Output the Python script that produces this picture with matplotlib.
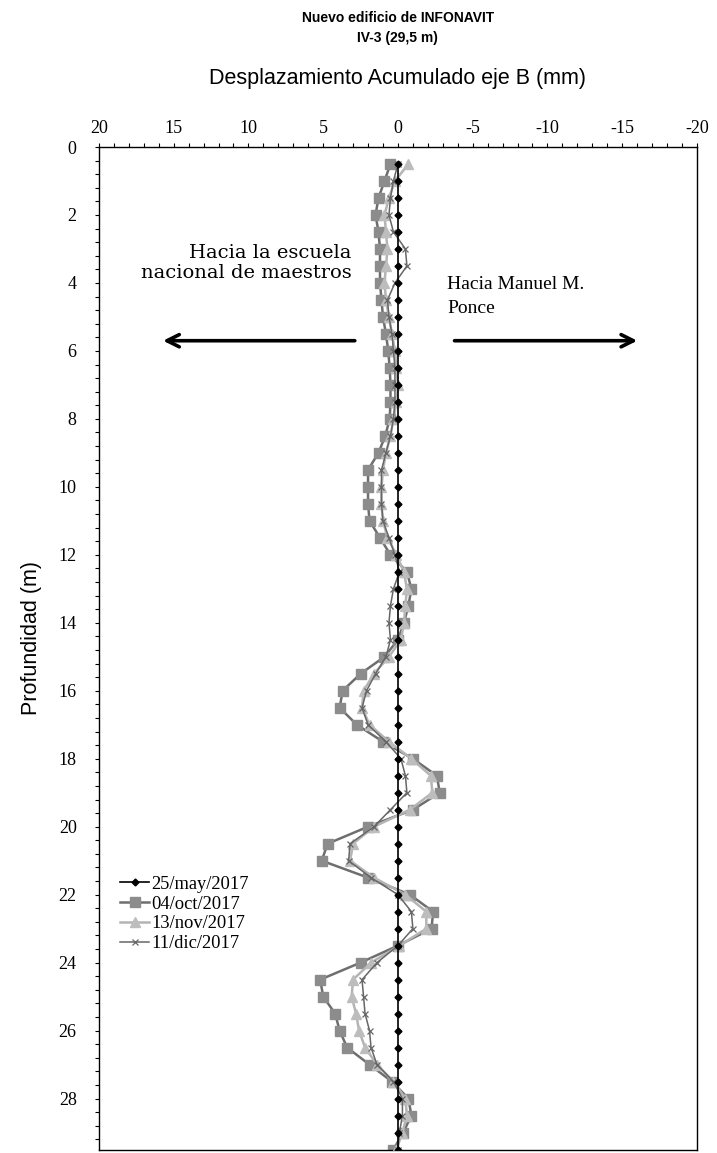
import numpy as np
import matplotlib
matplotlib.use("Agg")
from matplotlib import pyplot as plt
from matplotlib.ticker import MultipleLocator

plt.rcParams["axes.unicode_minus"] = False

depth = np.arange(0.5, 29.51, 0.5)

may_2017 = [0.0] * 59

oct_2017 = [0.5, 0.9, 1.3, 1.5, 1.3, 1.2, 1.2, 1.2, 1.1, 1.0,
            0.8, 0.65, 0.55, 0.5, 0.5, 0.55, 0.85, 1.3, 2.0, 2.0,
            2.0, 1.9, 1.2, 0.5, -0.6, -0.9, -0.7, -0.4, 0.0, 0.9,
            2.5, 3.7, 3.9, 2.75, 1.0, -1.0, -2.6, -2.8, -1.0, 2.0,
            4.7, 5.1, 2.0, -0.8, -2.35, -2.25, 0.0, 2.5, 5.2, 5.0,
            4.2, 3.9, 3.4, 1.9, 0.4, -0.7, -0.9, -0.35, 0.3]

nov_2017 = [-0.7, 0.2, 0.6, 0.9, 0.8, 0.7, 0.8, 0.9, 0.8, 0.6,
            0.4, 0.2, 0.1, 0.0, 0.1, 0.3, 0.5, 0.8, 1.0, 1.1,
            1.1, 1.0, 0.7, 0.1, -0.4, -0.6, -0.5, -0.4, -0.2, 0.6,
            1.6, 2.3, 2.4, 1.9, 0.6, -0.9, -2.2, -2.3, -0.8, 1.6,
            3.0, 3.2, 1.6, -0.5, -1.9, -1.9, -0.1, 1.8, 3.0, 3.1,
            2.8, 2.6, 2.2, 1.4, 0.3, -0.5, -0.6, -0.3, 0.1]

dic_2017 = [0.0, 0.3, 0.5, 0.6, 0.3, -0.5, -0.6, 0.2, 0.7, 0.6,
            0.4, 0.3, 0.2, 0.2, 0.2, 0.3, 0.5, 0.8, 1.1, 1.1,
            1.1, 1.0, 0.6, 0.2, -0.1, 0.3, 0.5, 0.6, 0.5, 0.8,
            1.5, 2.1, 2.4, 2.0, 0.8, -0.2, -0.5, -0.6, 0.5, 1.6,
            3.2, 3.3, 1.8, 0.0, -0.9, -1.0, 0.0, 1.4, 2.4, 2.3,
            2.2, 1.9, 1.8, 1.4, 0.3, -0.3, -0.3, -0.1, 0.0]

labels = ["25/may/2017", "04/oct/2017", "13/nov/2017", "11/dic/2017"]

serif = "Liberation Serif"
sans = "Liberation Sans"
narrow = ["Liberation Sans Narrow", "Liberation Sans"]

fig = plt.figure(figsize=(7.17, 11.53), dpi=100)
ax = fig.add_axes([0.138, 0.003, 0.834, 0.8695])

ax.plot(may_2017, depth, color="black", lw=1.2, marker="D", ms=3.5,
        label=labels[0], zorder=5)
ax.plot(oct_2017, depth, color="#6e6e6e", lw=1.8, marker="s", ms=7,
        mfc="#8c8c8c", mec="#8c8c8c", label=labels[1], zorder=2)
ax.plot(nov_2017, depth, color="#b4b4b4", lw=1.8, marker="^", ms=7,
        mfc="#bdbdbd", mec="#bdbdbd", label=labels[2], zorder=3)
ax.plot(dic_2017, depth, color="#666666", lw=1.1, marker="x", ms=5,
        mew=0.9, label=labels[3], zorder=4)

ax.set_xlim(20, -20)
ax.set_ylim(29.5, 0)
ax.xaxis.tick_top()
ax.xaxis.set_label_position("top")
ax.xaxis.set_major_locator(MultipleLocator(5))
ax.xaxis.set_minor_locator(MultipleLocator(1))
ax.yaxis.set_major_locator(MultipleLocator(2))
ax.yaxis.set_minor_locator(MultipleLocator(0.4))
ax.tick_params(which="both", direction="out", length=3, width=0.8,
               labelsize=13)
ax.tick_params(axis="x", which="major", pad=4)
ax.tick_params(axis="y", which="major", pad=13)
for lbl in ax.get_xticklabels() + ax.get_yticklabels():
    lbl.set_fontfamily(serif)
for s in ax.spines.values():
    s.set_linewidth(1.0)

ax.set_xlabel("Desplazamiento Acumulado eje B (mm)", fontsize=15.5,
              family=sans, labelpad=26)
ax.set_ylabel("Profundidad (m)", fontsize=15.5, family=sans)
ax.yaxis.set_label_coords(-0.095, 0.51)

fig.text(0.555, 1 - 18 / 1153, "Nuevo edificio de INFONAVIT", ha="center",
         va="center", fontsize=10, fontweight="bold", family=narrow)
fig.text(0.555, 1 - 38 / 1153, "IV-3 (29,5 m)", ha="center",
         va="center", fontsize=10, fontweight="bold", family=narrow)

ax.text(3.1, 3.4, "Hacia la escuela\nnacional de maestros",
        family="DejaVu Serif", fontsize=14, ha="right", va="center",
        linespacing=1.15)
ax.text(-3.3, 4.4, "Hacia Manuel M.\nPonce", family=serif,
        fontsize=14, ha="left", va="center", linespacing=1.5)
ax.annotate("", xy=(15.9, 5.7), xytext=(2.7, 5.7),
            arrowprops=dict(arrowstyle="->", lw=2.6, color="black",
                            mutation_scale=22))
ax.annotate("", xy=(-16.2, 5.7), xytext=(-3.6, 5.7),
            arrowprops=dict(arrowstyle="->", lw=2.6, color="black",
                            mutation_scale=22))

ax.legend(loc="lower left", bbox_to_anchor=(0.035, 0.197), frameon=False,
          prop={"family": serif, "size": 13.3}, handlelength=1.6,
          handletextpad=0.1, labelspacing=0.15, borderaxespad=0,
          borderpad=0)

fig.savefig("out.png", dpi=100)
